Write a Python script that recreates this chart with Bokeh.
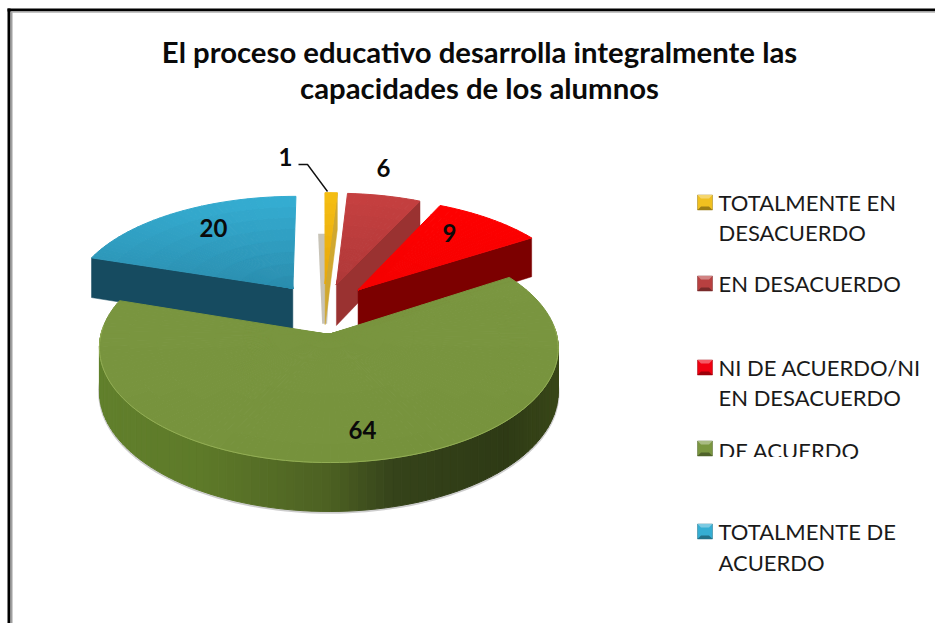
import math
from bokeh.plotting import figure
from bokeh.models import Range1d
from bokeh.core.properties import value
from bokeh.embed import file_html
from bokeh.resources import INLINE

# ---- data ----
categories = ["TOTALMENTE EN DESACUERDO", "EN DESACUERDO", "NI DE ACUERDO/NI EN DESACUERDO", "DE ACUERDO", "TOTALMENTE DE ACUERDO"]
values = [1, 6, 9, 64, 20]
title_lines = ["El proceso educativo desarrolla integralmente las", "capacidades de los alumnos"]
legend_lines = [["TOTALMENTE EN", "DESACUERDO"], ["EN DESACUERDO"], ["NI DE ACUERDO/NI", "EN DESACUERDO"], ["DE ACUERDO"], ["TOTALMENTE DE", "ACUERDO"]]

# ---- style ----
top_colors = [("#F5BE12", "#E8A80C"), ("#C64040", "#B03838"), ("#FF0000", "#F50000"), ("#7A9640", "#76923C"), ("#35AED3", "#2A8DAE")]
cut_colors = ["#D0A830", "#9A3231", "#7C0000", "#4C6022", "#164B60"]
wall_stops = [
    [(-1, "#C9B060"), (1, "#C9B060")],
    [(-1, "#8A2D2C"), (1, "#8A2D2C")],
    [(-1, "#7C0000"), (1, "#7C0000")],
    [(-1, "#61802C"), (-0.5, "#5E7A29"), (0, "#4C6022"), (0.25, "#35431A"), (0.7, "#2E3A15"), (1, "#3A4818")],
    [(-1, "#164B60"), (1, "#164B60")],
]
draw_order = [4, 0, 1, 2, 3]

CX, CY, R, RY, H, K, EXPL = 323.0, 308.0, 225.0, 107.0, 42.0, 0.115, 0.237
slice_x_scale = [1, 1, 1, 0.985, 1]
slice_x_shift = [0, 0, 0, -0.007, 0]


def hex2rgb(c):
    return tuple(int(c[i:i + 2], 16) for i in (1, 3, 5))


def mix(c1, c2, t):
    t = max(0.0, min(1.0, t))
    a, b = hex2rgb(c1), hex2rgb(c2)
    return "#%02x%02x%02x" % tuple(round(a[i] + (b[i] - a[i]) * t) for i in range(3))


def stop_color(stops, s):
    for (s0, c0), (s1, c1) in zip(stops, stops[1:]):
        if s <= s1:
            return mix(c0, c1, (s - s0) / (s1 - s0))
    return stops[-1][1]


def proj(u, v, z=0.0):
    w = 1 + K * v
    return CX + R * u / w, CY - RY * v / w + H * z / w


W, HT = 935, 623
p = figure(width=W, height=HT, x_range=Range1d(0, W), y_range=Range1d(HT, 0),
           output_backend="svg", toolbar_location=None, min_border=0,
           background_fill_color="white", border_fill_color="white", outline_line_color=None)
p.axis.visible = False
p.grid.visible = False

# page frame
p.line([8.5, 8.5], [8, HT], line_color="black", line_width=3)
p.line([7, W], [9.5, 9.5], line_color="black", line_width=3)
p.line([11, 11], [11, HT], line_color="#A0A0A0", line_width=2)
p.line([11, W], [11.5, 11.5], line_color="#B0B0B0", line_width=1.5)

# pie
total = sum(values)
cum = 0.0
slices = []
for val in values:
    a0 = cum / total * 2 * math.pi
    cum += val
    a1 = cum / total * 2 * math.pi
    slices.append((a0, a1))

for idx in draw_order:
    a0, a1 = slices[idx]
    m = (a0 + a1) / 2
    ou, ov = EXPL * math.sin(m) + slice_x_shift[idx], EXPL * math.cos(m)
    fx = slice_x_scale[idx]

    def rim(a, r=1.0, z=0.0):
        return proj(ou + fx * r * math.sin(a), ov + r * math.cos(a), z)

    n_ang = max(2, int(math.degrees(a1 - a0) / 2))
    angs = [a0 + (a1 - a0) * i / n_ang for i in range(n_ang + 1)]

    # soft grey strip behind the thin slice
    if idx == 0:
        ax, ay = proj(ou, ov)
        p.patch([ax - 7, ax + 7, ax + 2, ax - 3], [ay - 50, ay - 50, ay + 40, ay + 40],
                fill_color="#B5B0A0", fill_alpha=0.75, line_color=None)

    # shadow under the visible rim of the big slice
    if idx == 3:
        sx, sy = [], []
        for a in angs:
            x, y = rim(a, 1.0, 1.0)
            sx.append(x); sy.append(y + 1)
        p.line(sx, sy, line_color="#B8B8B8", line_width=2.5, line_alpha=0.7)

    # outer wall, only the part that faces the viewer
    xs, ys, cs = [], [], []
    for b0, b1 in zip(angs, angs[1:]):
        if math.cos((b0 + b1) / 2) > 0.05:
            continue
        quad = [rim(b0), rim(b1), rim(b1, 1.0, 1.0), rim(b0, 1.0, 1.0)]
        xs.append([q[0] for q in quad]); ys.append([q[1] for q in quad])
        cs.append(stop_color(wall_stops[idx], math.sin((b0 + b1) / 2)))
    if xs:
        p.patches(xs, ys, fill_color=cs, line_color=cs, line_width=1)

    # cut faces that look towards the viewer
    cuts = []
    if math.sin(a0) < -1e-6:
        cuts.append(a0)
    if math.sin(a1) > 1e-6:
        cuts.append(a1)
    for a in cuts:
        quad = [rim(a, 0.0), rim(a), rim(a, 1.0, 1.0), rim(a, 0.0, 1.0)]
        p.patch([q[0] for q in quad], [q[1] for q in quad], fill_color=cut_colors[idx], line_color=cut_colors[idx], line_width=0.5)

    # top face with a screen-space gradient
    n_rad = 8
    outline = [rim(a0, 0.0)] + [rim(a) for a in angs]
    ymin, ymax = min(q[1] for q in outline), max(q[1] for q in outline)
    xs, ys, cs = [], [], []
    for b0, b1 in zip(angs, angs[1:]):
        for i in range(n_rad):
            r0, r1 = i / n_rad, (i + 1) / n_rad
            quad = [rim(b0, r0), rim(b0, r1), rim(b1, r1), rim(b1, r0)]
            xs.append([q[0] for q in quad]); ys.append([q[1] for q in quad])
            yc = sum(q[1] for q in quad) / 4
            cs.append(mix(top_colors[idx][0], top_colors[idx][1], (yc - ymin) / (ymax - ymin)))
    p.patches(xs, ys, fill_color=cs, line_color=cs, line_width=1)

    # light rim on the big slice
    if idx == 3:
        rx, ry = [], []
        for a in angs:
            if math.cos(a) < 0.1:
                x, y = rim(a)
                rx.append(x); ry.append(y)
        p.line(rx, ry, line_color="#93AE55", line_width=1)

FONT = value("Lato")

# title
for line, yc in zip(title_lines, [51, 87]):
    p.text([479], [yc], text=[line], text_font=FONT, text_font_style="bold", text_font_size="29.3px",
           text_color="#0A0A0A", text_align="center", text_baseline="middle")

# data labels
label_xy = [(285, 156), (383, 167), (449, 232), (362, 429), (213, 227)]
for val, (lx, ly) in zip(values, label_xy):
    p.text([lx], [ly], text=[str(val)], text_font=FONT, text_font_style="bold", text_font_size="24px",
           text_color="#0A0A0A", text_align="center", text_baseline="middle")
p.line([298, 307, 327], [164, 164, 191], line_color="#111111", line_width=1.4)

# legend
marker_cy = [202, 283, 367, 448, 531]
legend_centers = [[202, 232], [283], [367, 397], [450], [531, 562]]
marker_cols = ["#F0C020", "#B84040", "#F00010", "#7A9640", "#35AED3"]
for lines, centers, cy, col in zip(legend_lines, legend_centers, marker_cy, marker_cols):
    x0, x1, y0, y1 = 697, 712, cy - 7.5, cy + 7.5
    ins = 3.5
    p.patch([x0, x1, x1, x0], [y0, y0, y1, y1], fill_color=col, line_color=mix(col, "#000000", 0.35), line_width=0.5)
    p.patch([x0, x1, x1 - ins, x0 + ins], [y0, y0, y0 + ins, y0 + ins], fill_color=mix(col, "#FFFFFF", 0.35), line_color=None)
    p.patch([x0, x1, x1 - ins, x0 + ins], [y1, y1, y1 - ins, y1 - ins], fill_color=mix(col, "#000000", 0.35), line_color=None)
    for line, yc in zip(lines, centers):
        p.text([718], [yc], text=[line], text_font=FONT, text_font_size="22px", text_color="#1A1A1A",
               text_align="left", text_baseline="middle")

# the reference cuts the foot of this legend line
p.quad(left=[716], right=[850], top=[456.5], bottom=[466], fill_color="white", line_color=None)

open("out.html", "w").write(file_html(p, INLINE))
